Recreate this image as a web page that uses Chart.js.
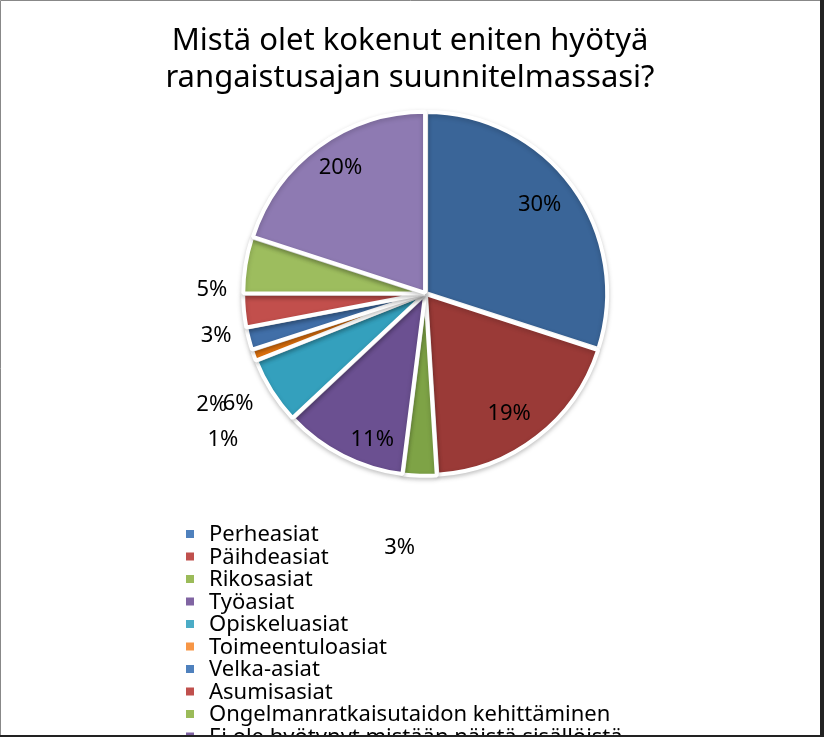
<!DOCTYPE html>
<html>
<head>
<meta charset="utf-8">
<script src="https://cdn.jsdelivr.net/npm/chart.js@4.4.1/dist/chart.umd.min.js"></script>
<style>
    html, body { margin: 0; padding: 0; background: #fff; }
    canvas { display: block; }
</style>
</head>
<body>
<canvas id="pie" width="824" height="737"></canvas>
<script>
// Chart data
const titleLines = ['Mistä olet kokenut eniten hyötyä', 'rangaistusajan suunnitelmassasi?'];
const categories = [
    'Perheasiat',
    'Päihdeasiat',
    'Rikosasiat',
    'Työasiat',
    'Opiskeluasiat',
    'Toimeentuloasiat',
    'Velka-asiat',
    'Asumisasiat',
    'Ongelmanratkaisutaidon kehittäminen',
    'Ei ole hyötynyt mistään näistä sisällöistä'
];
const shares = [30, 19, 3, 11, 6, 1, 2, 3, 5, 20];

// Styles
const sliceColors = ['#3a6598', '#9a3a37', '#7ea346', '#6b5091', '#34a0bd',
                     '#e4740e', '#416fa8', '#c24f4c', '#9dbd5e', '#8e7ab2'];
const legendColors = ['#4f81bd', '#c0504d', '#9bbb59', '#8064a2', '#4bacc6',
                      '#f79646', '#4f81bd', '#c0504d', '#9bbb59', '#8064a2'];
// label placement: distance as a fraction of the radius, and angular nudge in degrees
const labelDist = [0.80, 0.81, 1.41, 0.86, 1.20, 1.38, 1.33, 1.18, 1.18, 0.84];
const labelNudge = [-2, 3, 4, -7, 2, -16, -13, -6, -8, 2];

const FONT = '"Noto Sans", "DejaVu Sans", sans-serif';

// Soft shadow under the slices
const shadowPlugin = {
    id: 'sliceShadow',
    beforeDatasetsDraw(chart) {
        const ctx = chart.ctx;
        ctx.save();
        ctx.shadowColor = 'rgba(0, 0, 0, 0.2)';
        ctx.shadowBlur = 5;
        ctx.shadowOffsetY = 2;
    },
    afterDatasetsDraw(chart) {
        chart.ctx.restore();
    }
};

// Percent labels, title, legend and frame
const decorPlugin = {
    id: 'decor',
    afterDatasetsDraw(chart) {
        const ctx = chart.ctx;
        const meta = chart.getDatasetMeta(0);
        const total = shares.reduce((a, b) => a + b, 0);
        ctx.save();
        ctx.font = '22px ' + FONT;
        ctx.fillStyle = '#000';
        ctx.textAlign = 'center';
        ctx.textBaseline = 'middle';
        meta.data.forEach((arc, i) => {
            const p = arc.getProps(['x', 'y', 'startAngle', 'endAngle', 'outerRadius'], true);
            const mid = (p.startAngle + p.endAngle) / 2 + labelNudge[i] * Math.PI / 180;
            const r = p.outerRadius * labelDist[i];
            const pct = Math.round(shares[i] / total * 100) + '%';
            ctx.fillText(pct, p.x + Math.cos(mid) * r, p.y + Math.sin(mid) * r);
        });
        ctx.restore();
    },
    afterDraw(chart) {
        const ctx = chart.ctx;
        ctx.save();
        // title
        ctx.font = '31px ' + FONT;
        ctx.fillStyle = '#000';
        ctx.textAlign = 'center';
        ctx.textBaseline = 'middle';
        titleLines.forEach((line, i) => ctx.fillText(line, 410, 41 + i * 37));

        // legend
        ctx.font = '22px ' + FONT;
        ctx.textAlign = 'left';
        categories.forEach((name, i) => {
            const y = 535 + i * 22.5;
            ctx.fillStyle = legendColors[i];
            ctx.fillRect(186, y - 5, 8, 8);
            ctx.fillStyle = '#000';
            ctx.fillText(name, 209, y);
        });

        // outer frame
        ctx.strokeStyle = '#888';
        ctx.lineWidth = 1;
        ctx.beginPath();
        ctx.moveTo(0.5, 736);
        ctx.lineTo(0.5, 0.5);
        ctx.lineTo(820, 0.5);
        ctx.stroke();
        ctx.fillStyle = '#222';
        ctx.fillRect(820, 0, 4, 737);
        ctx.fillRect(0, 735, 824, 2);
        ctx.restore();
    }
};

new Chart(document.getElementById('pie'), {
    type: 'pie',
    data: {
        labels: categories,
        datasets: [{
            data: shares,
            backgroundColor: sliceColors,
            borderColor: '#ffffff',
            borderWidth: 4,
            offset: 3
        }]
    },
    options: {
        responsive: false,
        animation: false,
        layout: {
            padding: { left: 241, right: 214, top: 109, bottom: 259 }
        },
        plugins: {
            legend: { display: false },
            title: { display: false },
            tooltip: { enabled: false }
        }
    },
    plugins: [shadowPlugin, decorPlugin]
});
</script>
</body>
</html>
